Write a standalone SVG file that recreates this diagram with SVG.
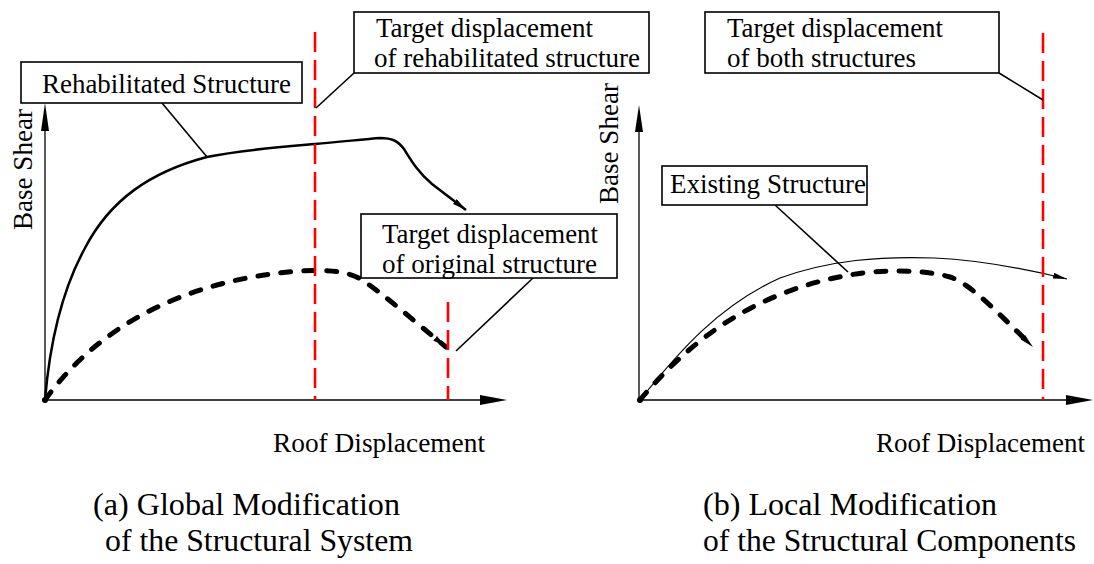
<svg xmlns="http://www.w3.org/2000/svg" width="1094" height="564" viewBox="0 0 1094 564" font-family="Liberation Serif, DejaVu Serif, serif">
<style>
  .lbl { font-size: 27px; fill: #000; }
  .cap { font-size: 32px; fill: #000; }
  .box { fill: #fff; stroke: #000; stroke-width: 1.6; }
  .axis { fill: none; stroke: #000; stroke-width: 1.3; }
  .lead { fill: none; stroke: #000; stroke-width: 1.6; }
  .red { fill: none; stroke: #ff0000; stroke-width: 2.6; stroke-dasharray: 20 8; }
  .thick { fill: none; stroke: #000; stroke-width: 5; stroke-linecap: round; stroke-dasharray: 10 13; }
  .solid { fill: none; stroke: #000; stroke-width: 2.5; }
  .thin { fill: none; stroke: #000; stroke-width: 1.2; }
</style>
<defs>
  <marker id="arr" markerUnits="userSpaceOnUse" markerWidth="16" markerHeight="8" refX="14" refY="3" orient="auto">
    <path d="M0,0 L14,3 L0,6 Z" fill="#000"/>
  </marker>
  <marker id="taper" markerUnits="userSpaceOnUse" markerWidth="16" markerHeight="10" refX="14" refY="4" orient="auto">
    <path d="M0,1 L14,4 L0,7 Z" fill="#000"/>
  </marker>
</defs>

<g id="axes-a">
  <line class="axis" x1="45" y1="400" x2="482" y2="400"/>
  <path d="M507,400 L480,395 L480,405 Z" fill="#000"/>
  <line class="axis" x1="45" y1="400" x2="45" y2="128"/>
  <path d="M45,103 L41,131 L49,131 Z" fill="#000"/>
  <text class="lbl" transform="translate(32,230) rotate(-90)" textLength="121" lengthAdjust="spacingAndGlyphs">Base Shear</text>
  <text class="lbl" x="273" y="452" textLength="212" lengthAdjust="spacingAndGlyphs">Roof Displacement</text>
</g>

<g id="axes-b">
  <line class="axis" x1="639" y1="400" x2="1068" y2="400"/>
  <path d="M1093,400 L1066,395 L1066,405 Z" fill="#000"/>
  <line class="axis" x1="639" y1="400" x2="639" y2="128"/>
  <path d="M639,105 L635,132 L643,132 Z" fill="#000"/>
  <text class="lbl" transform="translate(618,204) rotate(-90)" textLength="121" lengthAdjust="spacingAndGlyphs">Base Shear</text>
  <text class="lbl" x="876" y="452" textLength="209" lengthAdjust="spacingAndGlyphs">Roof Displacement</text>
</g>

<g id="curves">
  <path class="solid" marker-end="url(#arr)" d="M45,400 C50,340 62,290 85,248 C110,200 150,172 207,157 C240,150 280,147 315,144 C340,142 365,139 380,138 C392,138 398,141 404,149 C412,162 418,172 432,184 L466,210"/>
  <path class="thick" marker-end="url(#taper)" d="M45,400 C95,330 180,280 300,271 C330,269 350,272 362,280 C385,295 415,322 446,347"/>
  <circle cx="45" cy="400" r="3" fill="#000"/>
  <path class="thin" marker-end="url(#arr)" d="M640,400 C680,350 720,305 780,278 C830,260 880,256 935,258 C980,260 1030,270 1067,279"/>
  <path class="thick" marker-end="url(#taper)" d="M640,400 C690,340 760,285 870,272 C900,270 930,271 950,277 C970,283 1000,315 1033,347"/>
  <circle cx="640" cy="400" r="3" fill="#000"/>
</g>

<g id="targets">
  <line class="red" x1="315" y1="32" x2="315" y2="400"/>
  <line class="red" x1="448" y1="302" x2="448" y2="400"/>
  <line class="red" x1="1043" y1="33" x2="1043" y2="400"/>
</g>

<g id="connectors">
  <line class="lead" x1="162" y1="103" x2="207" y2="157"/>
  <line class="lead" x1="354" y1="73" x2="316" y2="108"/>
  <line class="lead" x1="533" y1="278" x2="456" y2="351"/>
  <line class="lead" x1="999" y1="73" x2="1043" y2="100"/>
  <line class="lead" x1="775" y1="205" x2="848" y2="272"/>
</g>

<g id="node-rehab">
  <rect class="box" x="21" y="62" width="281" height="41"/>
  <text class="lbl" x="42" y="93" textLength="249" lengthAdjust="spacingAndGlyphs">Rehabilitated Structure</text>
</g>

<g id="node-target-rehab">
  <rect class="box" x="354" y="12" width="295" height="61"/>
  <text class="lbl" x="376" y="37" textLength="217" lengthAdjust="spacingAndGlyphs">Target displacement</text>
  <text class="lbl" x="374" y="67" textLength="266" lengthAdjust="spacingAndGlyphs">of rehabilitated structure</text>
</g>

<g id="node-target-original">
  <rect class="box" x="361" y="214" width="256" height="64"/>
  <text class="lbl" x="382" y="243" textLength="216" lengthAdjust="spacingAndGlyphs">Target displacement</text>
  <text class="lbl" x="382" y="273" textLength="215" lengthAdjust="spacingAndGlyphs">of original structure</text>
</g>

<g id="node-target-both">
  <rect class="box" x="705" y="12" width="294" height="61"/>
  <text class="lbl" x="727" y="37" textLength="216" lengthAdjust="spacingAndGlyphs">Target displacement</text>
  <text class="lbl" x="727" y="67" textLength="189" lengthAdjust="spacingAndGlyphs">of both structures</text>
</g>

<g id="node-existing">
  <rect class="box" x="662" y="166" width="205" height="39"/>
  <text class="lbl" x="670" y="193" textLength="196" lengthAdjust="spacingAndGlyphs">Existing Structure</text>
</g>

<g id="captions">
  <text class="cap" x="93" y="515" textLength="307" lengthAdjust="spacingAndGlyphs">(a) Global Modification</text>
  <text class="cap" x="105" y="551" textLength="308" lengthAdjust="spacingAndGlyphs">of the Structural System</text>
  <text class="cap" x="703" y="515" textLength="294" lengthAdjust="spacingAndGlyphs">(b) Local Modification</text>
  <text class="cap" x="703" y="551" textLength="373" lengthAdjust="spacingAndGlyphs">of the Structural Components</text>
</g>
</svg>
